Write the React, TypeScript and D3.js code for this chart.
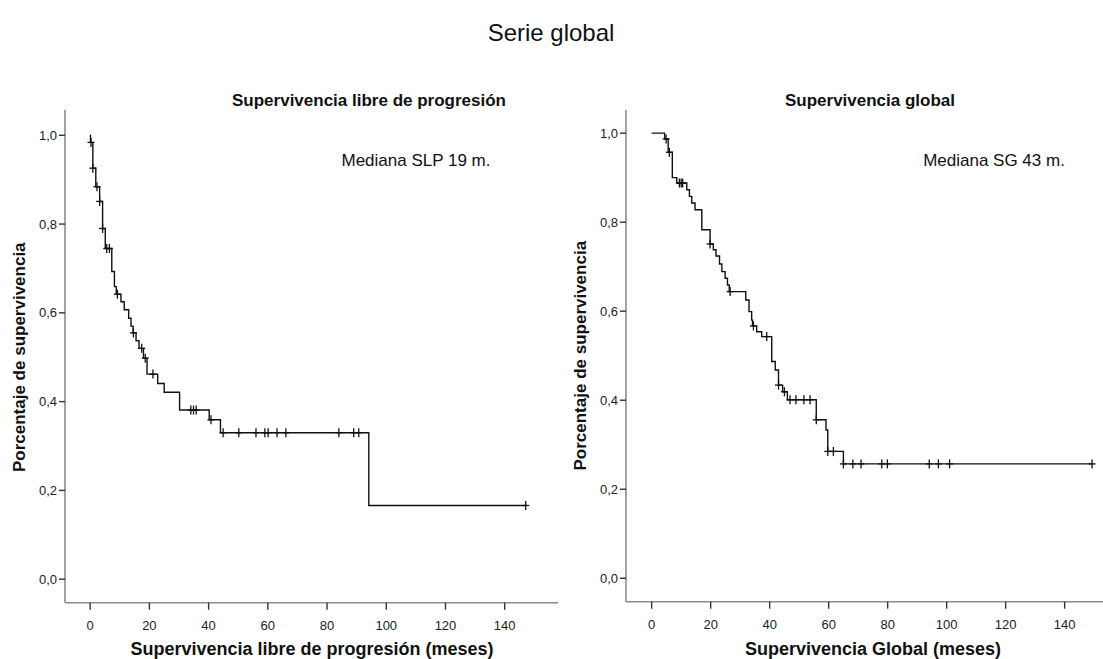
import React from "react";
import * as d3 from "d3";

// ---- Data: Supervivencia libre de progresión (SLP) ----
const slpEventTimes = [0.1, 0.9, 1.9, 3.2, 4.2, 5.1, 7.3, 8.2, 8.8, 10.4, 11.5, 13.0, 13.8, 14.5, 15.5, 16.5, 18.0, 19.2, 22.8, 25.0, 30.2, 40.2, 44.0, 94.1];
const slpSurvival = [0.984, 0.926, 0.884, 0.851, 0.79, 0.745, 0.693, 0.659, 0.642, 0.625, 0.607, 0.588, 0.57, 0.555, 0.537, 0.52, 0.498, 0.462, 0.441, 0.421, 0.381, 0.359, 0.33, 0.166];
const slpCensored = [0.3, 0.9, 2.3, 3.2, 4.2, 5.6, 6.5, 9.2, 14.6, 17.4, 18.6, 21.2, 34.0, 34.9, 35.8, 40.8, 44.9, 50.2, 56.0, 59.0, 60.1, 63.1, 66.1, 84.0, 89.0, 90.7, 147.1];

// ---- Data: Supervivencia global (SG) ----
const sgEventTimes = [4.4, 5.6, 7.0, 8.5, 11.9, 12.8, 13.6, 14.7, 17.0, 19.8, 20.9, 21.8, 23.0, 23.8, 24.9, 25.7, 26.3, 31.9, 33.0, 33.9, 34.2, 35.6, 37.3, 40.7, 41.9, 43.0, 44.4, 46.0, 55.8, 59.1, 59.7, 65.0];
const sgSurvival = [0.987, 0.957, 0.9, 0.888, 0.873, 0.858, 0.843, 0.828, 0.783, 0.751, 0.738, 0.724, 0.706, 0.689, 0.674, 0.659, 0.644, 0.625, 0.599, 0.58, 0.567, 0.554, 0.543, 0.487, 0.468, 0.434, 0.419, 0.401, 0.356, 0.333, 0.285, 0.257];
const sgCensored = [4.9, 6.0, 9.4, 10.0, 10.5, 19.8, 26.6, 34.5, 39.0, 43.0, 45.0, 46.9, 48.9, 51.6, 53.7, 55.8, 59.7, 61.6, 65.0, 68.2, 71.0, 78.0, 79.9, 94.1, 97.2, 101.0, 149.3];

const xTicks = [0, 20, 40, 60, 80, 100, 120, 140];
const yTicks = [0, 0.2, 0.4, 0.6, 0.8, 1.0];

const FONT = "'Liberation Sans', Arial, sans-serif";

type PanelProps = {
  times: number[];
  surv: number[];
  censored: number[];
  xDomain: [number, number];
  xRange: [number, number];
  yDomain: [number, number];
  yRange: [number, number];
  title: string;
  titleX: number;
  median: string;
  medianX: number;
  xLabel: string;
  xLabelX: number;
  yLabelX: number;
};

function survAt(t: number, times: number[], surv: number[]) {
  let s = 1;
  for (let i = 0; i < times.length; i++) {
    if (times[i] <= t) s = surv[i];
  }
  return s;
}

function Panel(p: PanelProps) {
  const x = d3.scaleLinear().domain(p.xDomain).range(p.xRange);
  const y = d3.scaleLinear().domain(p.yDomain).range(p.yRange);
  const lastT = p.censored[p.censored.length - 1];
  const pts: [number, number][] = [[0, 1]];
  p.times.forEach((t, i) => pts.push([t, p.surv[i]]));
  pts.push([lastT, p.surv[p.surv.length - 1]]);
  const line = d3
    .line<[number, number]>()
    .x((d) => x(d[0]))
    .y((d) => y(d[1]))
    .curve(d3.curveStepAfter);
  const x0 = p.xRange[0];
  const yb = p.yRange[0];
  const yt = p.yRange[1];
  const yMid = (y(0) + y(1)) / 2;
  return (
    <g>
      <text x={p.titleX} y={106} textAnchor="middle" fontFamily={FONT} fontWeight="bold" fontSize={17} fill="#111">
        {p.title}
      </text>
      <text x={p.medianX} y={166} textAnchor="middle" fontFamily={FONT} fontSize={17} fill="#111">
        {p.median}
      </text>
      {/* axes */}
      <line x1={x0} x2={x0} y1={yt} y2={yb} stroke="#8c8c8c" strokeWidth={1.6} />
      <line x1={x0} x2={p.xRange[1]} y1={yb} y2={yb} stroke="#8c8c8c" strokeWidth={1.6} />
      {yTicks.map((v) => (
        <g key={"y" + v}>
          <line x1={x0 - 6} x2={x0} y1={y(v)} y2={y(v)} stroke="#333" strokeWidth={1.4} />
          <text x={x0 - 8} y={y(v) + 4.5} textAnchor="end" fontFamily={FONT} fontSize={13} fill="#222">
            {v.toFixed(1).replace(".", ",")}
          </text>
        </g>
      ))}
      {xTicks.map((v) => (
        <g key={"x" + v}>
          <line x1={x(v)} x2={x(v)} y1={yb} y2={yb + 7} stroke="#333" strokeWidth={1.4} />
          <text x={x(v)} y={yb + 27} textAnchor="middle" fontFamily={FONT} fontSize={13} fill="#222">
            {v}
          </text>
        </g>
      ))}
      <text x={p.xLabelX} y={655} textAnchor="middle" fontFamily={FONT} fontWeight="bold" fontSize={18} fill="#111">
        {p.xLabel}
      </text>
      <text
        transform={`translate(${p.yLabelX},${yMid}) rotate(-90)`}
        textAnchor="middle"
        fontFamily={FONT}
        fontWeight="bold"
        fontSize={17}
        fill="#111"
      >
        Porcentaje de supervivencia
      </text>
      {/* curve */}
      <path d={line(pts) || ""} fill="none" stroke="#111" strokeWidth={1.4} />
      {p.censored.map((t, i) => {
        const cx = x(t);
        const cy = y(survAt(t, p.times, p.surv));
        return (
          <g key={"c" + i} stroke="#111" strokeWidth={1.3}>
            <line x1={cx} x2={cx} y1={cy - 4.5} y2={cy + 4.5} />
            <line x1={cx - 3.5} x2={cx + 3.5} y1={cy} y2={cy} />
          </g>
        );
      })}
    </g>
  );
}

export default function App() {
  return (
    <svg
      width={1103}
      height={659}
      style={{ position: "absolute", left: 0, top: 0, background: "#fff" }}
    >
      <rect width={1103} height={659} fill="#fff" />
      <text x={551} y={41} textAnchor="middle" fontFamily={FONT} fontSize={24} fill="#111">
        Serie global
      </text>
      <Panel
        times={slpEventTimes}
        surv={slpSurvival}
        censored={slpCensored}
        xDomain={[-8.5, 158]}
        xRange={[65, 558]}
        yDomain={[-0.053, 1.057]}
        yRange={[602.7, 110]}
        title="Supervivencia libre de progresión"
        titleX={369}
        median="Mediana SLP 19 m."
        medianX={416}
        xLabel="Supervivencia libre de progresión (meses)"
        xLabelX={312}
        yLabelX={25}
      />
      <Panel
        times={sgEventTimes}
        surv={sgSurvival}
        censored={sgCensored}
        xDomain={[-8.7, 153]}
        xRange={[626, 1103]}
        yDomain={[-0.0526, 1.052]}
        yRange={[601.7, 110]}
        title="Supervivencia global"
        titleX={870}
        median="Mediana SG 43 m."
        medianX={994}
        xLabel="Supervivencia Global (meses)"
        xLabelX={873}
        yLabelX={586}
      />
    </svg>
  );
}
